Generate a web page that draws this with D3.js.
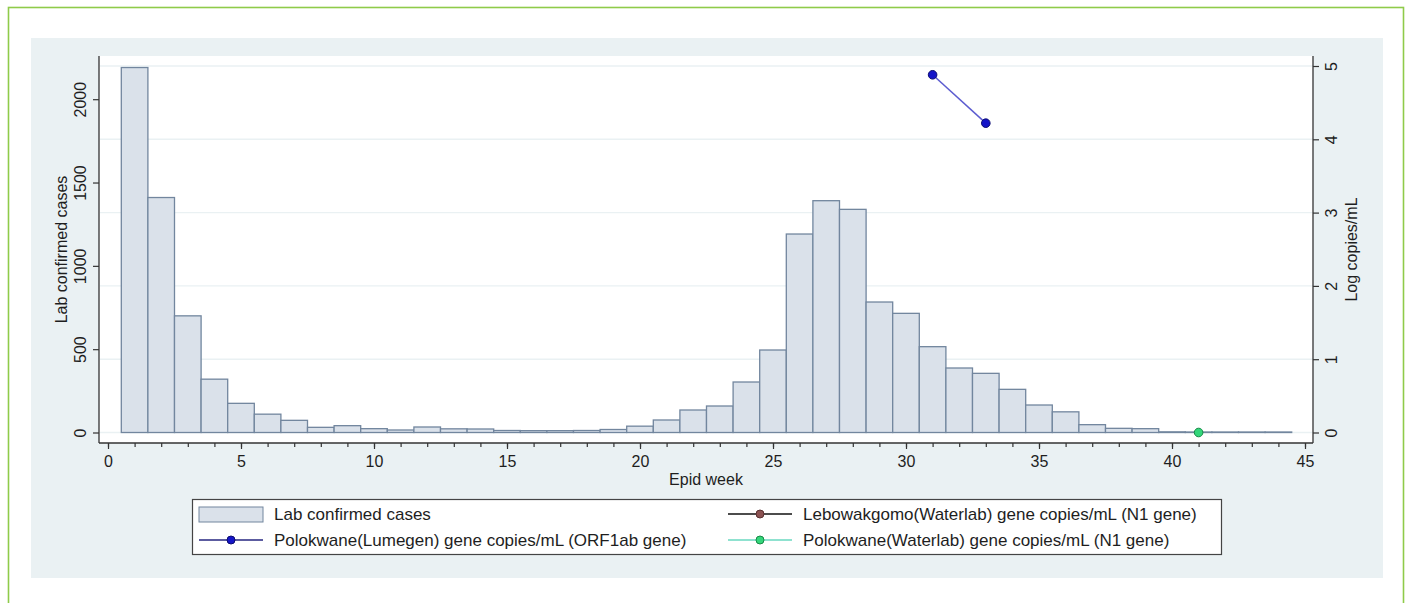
<!DOCTYPE html>
<html lang="en">
<head>
<meta charset="UTF-8">
<title>Lab confirmed cases and wastewater gene copies by epid week</title>
<script src="https://d3js.org/d3.v7.min.js"></script>
<style>
  body { margin: 0; background: #fff; }
  svg text { font-family: "Liberation Sans", Arial, Helvetica, sans-serif; fill: #1e1e1e; }
</style>
</head>
<body>
<svg id="chart" width="1408" height="603"></svg>
<script>
// values
var weeks = [1, 2, 3, 4, 5, 6, 7, 8, 9, 10, 11, 12, 13, 14, 15, 16, 17, 18, 19, 20, 21, 22,
             23, 24, 25, 26, 27, 28, 29, 30, 31, 32, 33, 34, 35, 36, 37, 38, 39, 40, 41, 42, 43, 44];
var cases = [2190, 1410, 700, 320, 175, 110, 73, 31, 41, 23, 15, 33, 22, 21, 12, 11, 11, 12, 18, 38, 75, 135,
             159, 303, 495, 1191, 1391, 1339, 783, 715, 515, 387, 355, 259, 165, 124, 47, 25, 23, 4, 3, 3, 3, 3];

var lumegenWeeks = [31, 33];
var lumegenLog = [4.88, 4.22];
var leboWeeks = [];
var leboLog = [];
var waterlabWeeks = [41];
var waterlabLog = [0];

var xTicks = [0, 5, 10, 15, 20, 25, 30, 35, 40, 45];
var xMinorTicks = [0, 1, 2, 3, 4, 5, 6, 7, 8, 9, 10, 11, 12, 13, 14, 15, 16, 17, 18, 19, 20, 21, 22,
                   23, 24, 25, 26, 27, 28, 29, 30, 31, 32, 33, 34, 35, 36, 37, 38, 39, 40, 41, 42, 43, 44, 45];
var leftTicks = [0, 500, 1000, 1500, 2000];
var rightTicks = [0, 1, 2, 3, 4, 5];

var legendLabels = ["Lab confirmed cases",
                    "Lebowakgomo(Waterlab) gene copies/mL (N1 gene)",
                    "Polokwane(Lumegen) gene copies/mL (ORF1ab gene)",
                    "Polokwane(Waterlab) gene copies/mL (N1 gene)"];

var svg = d3.select("#chart");

// frame
var plotL = 99, plotR = 1313, plotT = 56, plotB = 443;
var midY = (plotT + plotB) / 2;

svg.append("rect")
  .attr("x", 8.5).attr("y", 7.5).attr("width", 1395).attr("height", 640)
  .attr("fill", "none").attr("stroke", "#8fcb4a").attr("stroke-width", 1.6);

svg.append("rect")
  .attr("x", 31).attr("y", 38).attr("width", 1352).attr("height", 540)
  .attr("fill", "#eaf1f3");

svg.append("rect")
  .attr("x", plotL).attr("y", plotT).attr("width", plotR - plotL).attr("height", plotB - plotT)
  .attr("fill", "#fff");

//scales
var x = d3.scaleLinear().domain([0, 45]).range([108, 1305]);
var yLeft = d3.scaleLinear().domain([0, 2000]).range([432.5, 99.2]);
var yRight = d3.scaleLinear().domain([0, 5]).range([432.5, 66]);

//grid lines from the right axis
svg.append("g").selectAll("line")
  .data(rightTicks)
  .enter()
  .append("line")
  .attr("x1", plotL + 1).attr("x2", plotR)
  .attr("y1", function(d) { return yRight(d); })
  .attr("y2", function(d) { return yRight(d); })
  .attr("stroke", "#eaf1f3").attr("stroke-width", 1.4);

//bars
svg.append("g").selectAll(".bar")
  .data(weeks)
  .enter()
  .append("rect")
  .attr("class", "bar")
  .attr("x", function(d) { return x(d - 0.5); })
  .attr("y", function(d, i) { return yLeft(cases[i]); })
  .attr("width", x(1) - x(0))
  .attr("height", function(d, i) { return yLeft(0) - yLeft(cases[i]); })
  .attr("fill", "#dae1ea")
  .attr("stroke", "#72869e")
  .attr("stroke-width", 1.3);

//lines and markers
var line = d3.line()
  .x(function(d) { return x(d[0]); })
  .y(function(d) { return yRight(d[1]); });

function drawSeries(wk, vals, lineColor, fill, edge) {
  var pts = wk.map(function(w, i) { return [w, vals[i]]; });
  if (pts.length > 1) {
    svg.append("path")
      .datum(pts)
      .attr("d", line)
      .attr("fill", "none")
      .attr("stroke", lineColor)
      .attr("stroke-width", 1.5);
  }
  svg.append("g").selectAll("circle")
    .data(pts)
    .enter()
    .append("circle")
    .attr("cx", function(d) { return x(d[0]); })
    .attr("cy", function(d) { return yRight(d[1]); })
    .attr("r", 4.3)
    .attr("fill", fill)
    .attr("stroke", edge)
    .attr("stroke-width", 1);
}
drawSeries(leboWeeks, leboLog, "#111", "#8b5252", "#5a3030");
drawSeries(lumegenWeeks, lumegenLog, "#5c5cd0", "#1414c8", "#0b0b70");
drawSeries(waterlabWeeks, waterlabLog, "#6ad8c0", "#33d67a", "#168a46");

//x axis
var axisColor = "#333";
svg.append("line")
  .attr("x1", plotL).attr("x2", plotR).attr("y1", plotB).attr("y2", plotB)
  .attr("stroke", axisColor).attr("stroke-width", 1.3);

var gxMinor = svg.append("g")
  .attr("transform", "translate(0," + plotB + ")")
  .call(d3.axisBottom(x).tickValues(xMinorTicks).tickSize(4).tickFormat(""));
var gx = svg.append("g")
  .attr("transform", "translate(0," + plotB + ")")
  .call(d3.axisBottom(x).tickValues(xTicks).tickSize(6).tickPadding(7).tickFormat(d3.format("d")));
[gxMinor, gx].forEach(function(g) {
  g.select(".domain").remove();
  g.selectAll("line").attr("stroke", axisColor).attr("stroke-width", 1.2);
});
gx.selectAll("text").attr("font-size", "16px").attr("fill", "#1e1e1e");

svg.append("text")
  .attr("x", (plotL + plotR) / 2)
  .attr("y", 485)
  .attr("text-anchor", "middle")
  .attr("font-size", "16px")
  .text("Epid week");

//left y axis
svg.append("line")
  .attr("x1", plotL).attr("x2", plotL).attr("y1", plotT).attr("y2", plotB)
  .attr("stroke", axisColor).attr("stroke-width", 1.3);
var gl = svg.append("g")
  .attr("transform", "translate(" + plotL + ",0)")
  .call(d3.axisLeft(yLeft).tickValues(leftTicks).tickSize(6).tickFormat(d3.format("d")));
gl.select(".domain").remove();
gl.selectAll("line").attr("stroke", axisColor).attr("stroke-width", 1.2);
gl.selectAll("text")
  .attr("transform", "rotate(-90)")
  .attr("x", 0).attr("y", -13.5).attr("dy", 0)
  .attr("text-anchor", "middle")
  .attr("font-size", "16px").attr("fill", "#1e1e1e");

svg.append("text")
  .attr("transform", "translate(67," + midY + ") rotate(-90)")
  .attr("text-anchor", "middle")
  .attr("font-size", "16px")
  .text("Lab confirmed cases");

//right y axis
svg.append("line")
  .attr("x1", plotR).attr("x2", plotR).attr("y1", plotT).attr("y2", plotB)
  .attr("stroke", axisColor).attr("stroke-width", 1.3);
var gr = svg.append("g")
  .attr("transform", "translate(" + plotR + ",0)")
  .call(d3.axisRight(yRight).tickValues(rightTicks).tickSize(6).tickFormat(d3.format("d")));
gr.select(".domain").remove();
gr.selectAll("line").attr("stroke", axisColor).attr("stroke-width", 1.2);
gr.selectAll("text")
  .attr("transform", "rotate(-90)")
  .attr("x", 0).attr("y", 24).attr("dy", 0)
  .attr("text-anchor", "middle")
  .attr("font-size", "16px").attr("fill", "#1e1e1e");

svg.append("text")
  .attr("transform", "translate(1357," + midY + ") rotate(-90)")
  .attr("text-anchor", "middle")
  .attr("font-size", "16px")
  .text("Log copies/mL");

//legend
var legend = svg.append("g");
legend.append("rect")
  .attr("x", 192.5).attr("y", 499.5).attr("width", 1029).attr("height", 55)
  .attr("fill", "#fff").attr("stroke", "#444").attr("stroke-width", 1.2);

var colX = [199, 728];
var rowY = [514, 540];
var keys = [
  { type: "bar" },
  { type: "line", stroke: "#111", fill: "#8b5252", edge: "#5a3030" },
  { type: "line", stroke: "#262680", fill: "#1414c8", edge: "#0b0b70" },
  { type: "line", stroke: "#6ad8c0", fill: "#33d67a", edge: "#168a46" }
];

legendLabels.forEach(function(lab, i) {
  var cx = colX[i % 2], cy = rowY[Math.floor(i / 2)];
  var k = keys[i];
  if (k.type === "bar") {
    legend.append("rect")
      .attr("x", cx).attr("y", cy - 7).attr("width", 64).attr("height", 15)
      .attr("fill", "#dae1ea").attr("stroke", "#72869e").attr("stroke-width", 1);
  } else {
    legend.append("line")
      .attr("x1", cx).attr("x2", cx + 64).attr("y1", cy).attr("y2", cy)
      .attr("stroke", k.stroke).attr("stroke-width", 1.3);
    legend.append("circle")
      .attr("cx", cx + 32).attr("cy", cy).attr("r", 4)
      .attr("fill", k.fill).attr("stroke", k.edge).attr("stroke-width", 1);
  }
  legend.append("text")
    .attr("x", cx + 75).attr("y", cy + 6)
    .attr("font-size", "17px")
    .text(lab);
});
</script>
</body>
</html>
